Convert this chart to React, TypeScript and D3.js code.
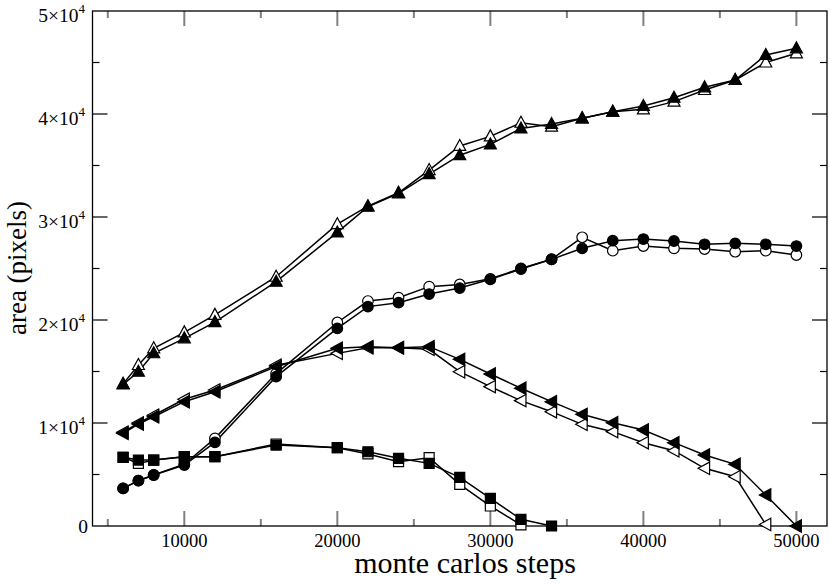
import { useEffect, useRef } from "react";
import * as d3 from "d3";

// monte carlo steps (x) for every series
const steps = [
  6000, 7000, 8000, 10000, 12000, 16000, 20000, 22000, 24000, 26000, 28000, 30000, 32000, 34000,
  36000, 38000, 40000, 42000, 44000, 46000, 48000, 50000,
];

const triUpFilled = [
  13750, 14980, 16770, 18220, 19800, 23720, 28500, 31000, 32300, 34170, 36000, 37050, 38600, 39030,
  39580, 40220, 40780, 41580, 42590, 43300, 45730, 46380,
];
const triUpOpen = [
  13800, 15630, 17250, 18800, 20500, 24200, 29300, 31050, 32350, 34560, 36900, 37830, 39150, 38770,
  39580, 40220, 40450, 41200, 42330, 43300, 45000, 45890,
];
const circleFilled = [
  3660, 4400, 4950, 5920, 8120, 14500, 19190, 21300, 21680, 22520, 23100, 23950, 24950, 25890,
  26960, 27700, 27860, 27670, 27350, 27440, 27350, 27180,
];
const circleOpen = [
  3660, 4400, 4950, 6000, 8510, 14800, 19760, 21840, 22170, 23240, 23450, 24000, 25000, 25900,
  28030, 26730, 27180, 26960, 26890, 26630, 26730, 26310,
];
const triLeftFilled = [
  9000, 9900, 10610, 12070, 13040, 15470, 17250, 17400, 17310, 17410, 16180, 14760, 13370, 12070,
  10840, 10030, 9320, 8090, 6890, 5990, 3010, 0,
];
const triLeftOpen = [
  9100, 10000, 10750, 12300, 13200, 15600, 16760, 17300, 17300, 17150, 14980, 13530, 12170, 11100,
  9870, 9160, 8090, 7310, 5600, 4790, 150,
];
const squareFilled = [6670, 6400, 6400, 6730, 6730, 7860, 7600, 7210, 6570, 6080, 4730, 2690, 650, 0];
const squareOpen = [6670, 6080, 6400, 6730, 6730, 7960, 7600, 7000, 6250, 6630, 4050, 1940, 100];

const xTicks = [10000, 20000, 30000, 40000, 50000];
const yTicks = [0, 1, 2, 3, 4, 5];

type Shape = "up" | "left" | "circle" | "square";

const series: { values: number[]; shape: Shape; filled: boolean }[] = [
  { values: triUpOpen, shape: "up", filled: false },
  { values: triUpFilled, shape: "up", filled: true },
  { values: circleOpen, shape: "circle", filled: false },
  { values: circleFilled, shape: "circle", filled: true },
  { values: triLeftOpen, shape: "left", filled: false },
  { values: triLeftFilled, shape: "left", filled: true },
  { values: squareOpen, shape: "square", filled: false },
  { values: squareFilled, shape: "square", filled: true },
];

function markerPath(shape: Shape): string {
  switch (shape) {
    case "up":
      return "M0,-6.5L6,4.5L-6,4.5Z";
    case "left":
      return "M-6.5,0L5,-6.2L5,6.2Z";
    case "square":
      return "M-5,-5H5V5H-5Z";
    default:
      return "M-5.3,0A5.3,5.3 0 1,0 5.3,0A5.3,5.3 0 1,0 -5.3,0Z";
  }
}

export default function App() {
  const ref = useRef<SVGSVGElement | null>(null);

  useEffect(() => {
    document.body.style.margin = "0";
    if (!ref.current) return;

    const width = 830;
    const height = 584;
    const margin = { top: 11, right: 3, bottom: 58, left: 92.5 };
    const serif = "'Liberation Serif', 'DejaVu Serif', serif";

    const svg = d3.select(ref.current);
    svg.selectAll("*").remove();
    svg.attr("viewBox", `0 0 ${width} ${height}`);

    const x = d3
      .scaleLinear()
      .domain([4000, 52000])
      .range([margin.left, width - margin.right]);
    const y = d3
      .scaleLinear()
      .domain([0, 50000])
      .range([height - margin.bottom, margin.top]);

    const x0 = margin.left;
    const x1 = width - margin.right;
    const y0 = height - margin.bottom;
    const y1 = margin.top;

    // ticks
    const ticks = svg.append("g");
    for (let v = 5000; v <= 50000; v += 5000) {
      const major = v % 10000 === 0;
      const len = major ? 15 : 7;
      const px = x(v);
      ticks
        .append("line")
        .attr("x1", px)
        .attr("x2", px)
        .attr("y1", y0)
        .attr("y2", y0 - len)
        .attr("stroke", "#808080")
        .attr("stroke-width", 2);
      ticks
        .append("line")
        .attr("x1", px)
        .attr("x2", px)
        .attr("y1", y1)
        .attr("y2", y1 + len)
        .attr("stroke", "#808080")
        .attr("stroke-width", 2);
    }
    for (let v = 5000; v < 50000; v += 5000) {
      const major = v % 10000 === 0;
      const len = major ? 15 : 7;
      const py = y(v);
      ticks
        .append("line")
        .attr("x1", x0)
        .attr("x2", x0 + len)
        .attr("y1", py)
        .attr("y2", py)
        .attr("stroke", "#000")
        .attr("stroke-width", 1.2);
      ticks
        .append("line")
        .attr("x1", x1)
        .attr("x2", x1 - len)
        .attr("y1", py)
        .attr("y2", py)
        .attr("stroke", "#000")
        .attr("stroke-width", 1.2);
    }

    // frame
    svg
      .append("rect")
      .attr("x", x0)
      .attr("y", y1)
      .attr("width", x1 - x0)
      .attr("height", y0 - y1)
      .attr("fill", "none")
      .attr("stroke", "#000")
      .attr("stroke-width", 1.3);

    // x labels
    svg
      .append("g")
      .selectAll("text")
      .data(xTicks)
      .join("text")
      .attr("x", (d) => x(d))
      .attr("y", 547)
      .attr("text-anchor", "middle")
      .attr("font-family", serif)
      .attr("font-size", 18.5)
      .attr("fill", "#000")
      .text((d) => d.toString());

    // y labels with exponent
    const yl = svg
      .append("g")
      .selectAll("text")
      .data(yTicks)
      .join("text")
      .attr("x", (d) => (d === 0 ? 88 : 85))
      .attr("y", (d) => y(d * 10000) + (d === 0 ? 6.5 : 11))
      .attr("text-anchor", "end")
      .attr("font-family", serif)
      .attr("font-size", 19.5)
      .attr("fill", "#000");
    yl.each(function (d) {
      const t = d3.select(this);
      if (d === 0) {
        t.text("0");
        return;
      }
      t.append("tspan").text(`${d}\u00d710`);
      t.append("tspan").attr("font-size", 13).attr("dy", -9).text("4");
    });

    // axis titles
    svg
      .append("text")
      .attr("x", 465)
      .attr("y", 573)
      .attr("text-anchor", "middle")
      .attr("font-family", serif)
      .attr("font-size", 30)
      .attr("fill", "#000")
      .text("monte carlos steps");
    svg
      .append("text")
      .attr("transform", `translate(26,${268}) rotate(-90)`)
      .attr("text-anchor", "middle")
      .attr("font-family", serif)
      .attr("font-size", 27)
      .attr("fill", "#000")
      .text("area (pixels)");

    // series lines and markers
    const line = d3
      .line<number>()
      .x((_, i) => x(steps[i]))
      .y((d) => y(d));

    const plot = svg.append("g");
    series.forEach((s) => {
      plot
        .append("path")
        .datum(s.values)
        .attr("fill", "none")
        .attr("stroke", "#000")
        .attr("stroke-width", 1.5)
        .attr("d", line);
    });
    series.forEach((s) => {
      plot
        .append("g")
        .selectAll("path")
        .data(s.values)
        .join("path")
        .attr("transform", (d, i) => `translate(${x(steps[i])},${y(d)})`)
        .attr("d", markerPath(s.shape))
        .attr("fill", s.filled ? "#000" : "#fff")
        .attr("stroke", "#000")
        .attr("stroke-width", 1.2);
    });
  }, []);

  return (
    <svg
      ref={ref}
      width={830}
      height={584}
      role="img"
      aria-label="Area versus monte carlos steps"
      style={{ display: "block", background: "#fff" }}
    />
  );
}
